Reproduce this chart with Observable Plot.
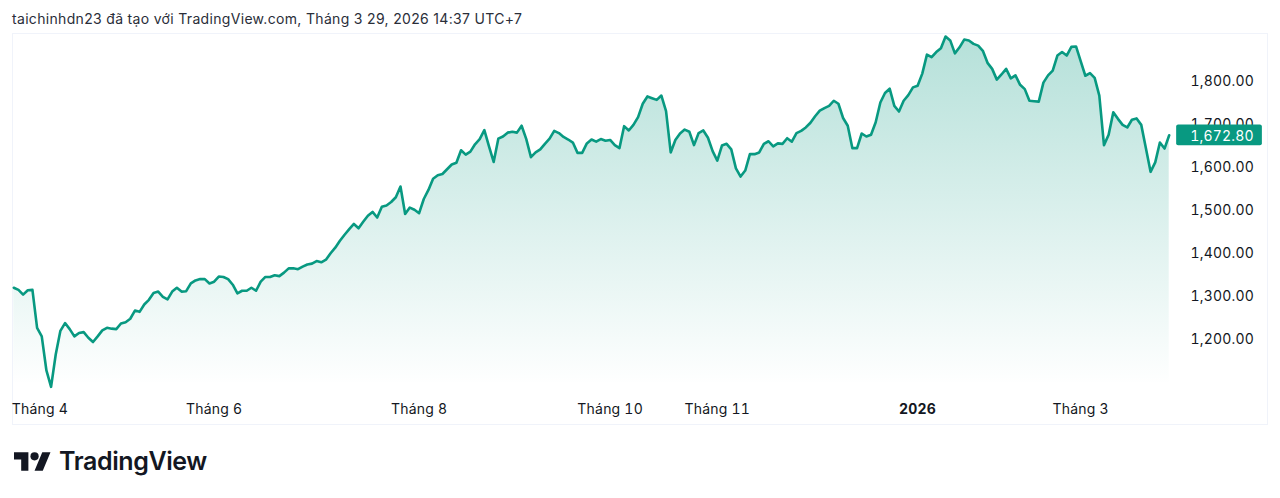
<!DOCTYPE html>
<html lang="vi">
<head>
<meta charset="utf-8">
<script src="https://cdn.jsdelivr.net/npm/d3@7"></script>
<script src="https://cdn.jsdelivr.net/npm/@observablehq/plot@0.6"></script>
<style>
  html, body { margin: 0; padding: 0; background: #fff; width: 1280px; height: 498px; overflow: hidden; }
  body { font-family: Inter, "Noto Sans", sans-serif; color: #131722; }
  #title { height: 33px; padding-left: 12px; font-size: 14px; letter-spacing: 0.32px; line-height: 37px; white-space: nowrap; color: #2a2e39; box-sizing: border-box; }
  #chart { margin-left: 12px; width: 1254px; height: 390px; border: 1px solid #f0f3fa; }
  #chart svg { display: block; font-variant-numeric: tabular-nums; letter-spacing: 0.2px; }
  #logo { position: absolute; left: 14px; top: 445px; display: flex; align-items: center; height: 32px; }
  #logo span { font-size: 25px; font-weight: 600; letter-spacing: -0.4px; margin-left: 8px; color: #131722; }
</style>
</head>
<body>
<div id="title">taichinhdn23 đã tạo với TradingView.com, Tháng 3 29, 2026 14:37 UTC+7</div>
<div id="chart"></div>
<div id="logo">
  <svg width="37" height="19" viewBox="0 4 36 18"><path fill="#131722" d="M14 22H7V11H0V4h14v18zM28 22h-8l7.5-18h8L28 22z"/><circle fill="#131722" cx="20" cy="8" r="4"/></svg>
  <span>TradingView</span>
</div>
<script>
const closes = [
1319,1314,1303,1313,1314,1226,1206,1127,1089,1164,1219,1237,1223,1206,1214,1216,1203,1193,1206,1220,
1226,1224,1223,1236,1239,1247,1266,1263,1280,1291,1307,1310,1298,1292,1310,1319,1310,1311,1329,1336,
1339,1339,1329,1333,1345,1344,1339,1326,1306,1312,1312,1319,1312,1333,1344,1344,1348,1346,1354,1364,
1364,1362,1368,1373,1375,1381,1378,1384,1399,1412,1428,1442,1455,1467,1457,1472,1486,1495,1482,1507,
1510,1518,1529,1554,1490,1505,1500,1492,1525,1546,1572,1580,1583,1594,1605,1609,1638,1628,1635,1652,
1664,1685,1647,1611,1665,1670,1679,1681,1679,1695,1664,1622,1633,1640,1653,1665,1683,1678,1669,1663,
1656,1632,1632,1654,1663,1658,1664,1660,1662,1650,1643,1694,1684,1697,1715,1746,1763,1759,1755,1765,
1729,1633,1662,1677,1686,1681,1650,1678,1684,1667,1636,1614,1649,1653,1640,1596,1577,1591,1629,1629,
1633,1653,1659,1647,1654,1653,1666,1658,1678,1683,1691,1702,1717,1730,1736,1741,1753,1746,1713,1695,
1643,1643,1677,1670,1674,1703,1749,1771,1781,1741,1728,1753,1766,1784,1788,1816,1860,1854,1866,1875,
1902,1893,1863,1877,1895,1893,1885,1881,1869,1841,1827,1802,1814,1827,1805,1812,1790,1780,1753,1752,
1751,1795,1812,1823,1858,1866,1858,1878,1879,1845,1811,1817,1806,1765,1650,1674,1726,1711,1697,1691,
1709,1712,1697,1643,1588,1610,1656,1642,1672.8
];
const priceTicks = [1200, 1300, 1400, 1500, 1600, 1700, 1800];
const monthSessions = [5.6, 43, 87, 128, 151, 229];
const monthLabels = ["Tháng 4", "Tháng 6", "Tháng 8", "Tháng 10", "Tháng 11", "Tháng 3"];
const yearSessions = [194];
const yearLabels = ["2026"];
const areaFloor = 1098;
const lastPrice = closes[closes.length - 1];
const badge = [{s1: 249.6, s2: 268, hi: lastPrice + 24, lo: lastPrice - 24}];

const green = "#089981";
const series = closes.map((close, session) => ({session, close}));
const fmt = d3.format(",.2f");

const chart = Plot.plot({
  width: 1254, height: 390,
  marginLeft: 0, marginTop: 0, marginRight: 98, marginBottom: 27,
  style: {fontFamily: "Inter, 'Noto Sans', sans-serif", fontSize: "14px", background: "transparent", color: "#131722", overflow: "visible"},
  x: {domain: [0, 248], range: [0.3, 1155.7], axis: null},
  y: {domain: [1200, 1800], range: [304.5, 46], axis: null},
  marks: [
    Plot.areaY(series, {x: "session", y1: () => areaFloor, y2: "close", fill: "url(#tvfade)"}),
    Plot.lineY(series, {x: "session", y: "close", stroke: green, strokeWidth: 2.6, strokeLinejoin: "round"}),
    Plot.axisY({anchor: "right", ticks: priceTicks, tickFormat: fmt, tickSize: 0, tickPadding: 21, dy: 1, textAnchor: "start", label: null, fill: "#131722", fontSize: 14}),
    Plot.rect(badge, {x1: "s1", x2: "s2", y1: "lo", y2: "hi", fill: green, rx: 2}),
    Plot.text([lastPrice], {x: 248, y: d => d, text: d => fmt(d), dx: 21, dy: 1, textAnchor: "start", fill: "#fff", fontSize: 14}),
    Plot.axisX({ticks: monthSessions, tickFormat: d => monthLabels[monthSessions.indexOf(d)], tickSize: 0, tickPadding: 7, label: null, fill: "#131722", fontSize: 14}),
    Plot.axisX({ticks: yearSessions, tickFormat: d => yearLabels[yearSessions.indexOf(d)], tickSize: 0, tickPadding: 7, label: null, fill: "#131722", fontSize: 14, fontWeight: "bold"})
  ]
});

const grad = d3.select(chart).insert("defs", ":first-child")
  .append("linearGradient").attr("id", "tvfade").attr("x1", 0).attr("x2", 0).attr("y1", 0).attr("y2", 1);
grad.append("stop").attr("offset", "0%").attr("stop-color", green).attr("stop-opacity", 0.3);
grad.append("stop").attr("offset", "100%").attr("stop-color", green).attr("stop-opacity", 0);

document.getElementById("chart").append(chart);
</script>
</body>
</html>
